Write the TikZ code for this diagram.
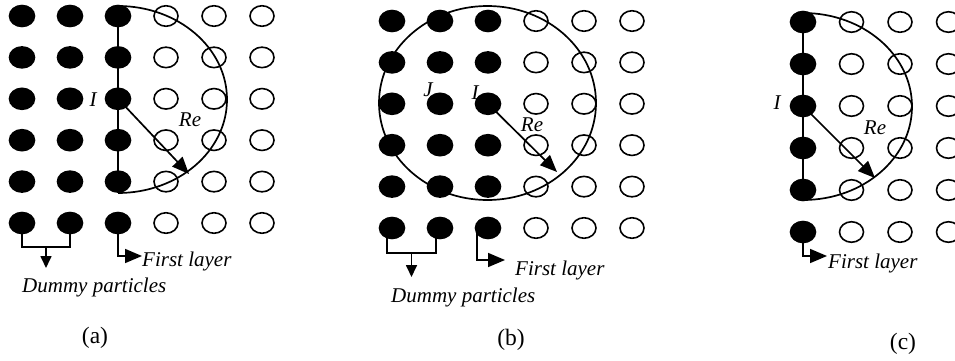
\documentclass[tikz,border=0pt]{standalone}
\usepackage{fontspec}
\setmainfont{Liberation Serif}
\usetikzlibrary{shapes.geometric,arrows.meta}
\begin{document}
\begin{tikzpicture}[x=1pt,y=1pt,yscale=-1,
  dot/.style={ellipse,draw=black,line width=1.6pt,fill=black,minimum width=25pt,minimum height=21pt,inner sep=0pt},
  hole/.style={ellipse,draw=black,line width=1.6pt,fill=none,minimum width=24pt,minimum height=20.5pt,inner sep=0pt},
  lbl/.style={font=\fontsize{21}{24}\selectfont\itshape,inner sep=0pt},
  captxt/.style={font=\fontsize{23.5}{27}\selectfont,inner sep=0pt},
  ln/.style={line width=1.7pt},
  bigtip/.style={-{Triangle[length=17pt,width=14pt]}},
  smalltip/.style={-{Triangle[length=12pt,width=11pt]}}]
\useasboundingbox (0,0) rectangle (955,361);
\clip (0,0) rectangle (955,361);

% ---------- panel (a) ----------
\foreach \i in {1,...,6}{
  \foreach \j in {1,...,6}{
    \pgfmathsetmacro\xx{22+48*(\j-1)}
    \pgfmathsetmacro\yy{16+41.4*(\i-1)}
    \ifnum\j<4
      \node[dot] (a\i\j) at (\xx,\yy) {};
    \else
      \node[hole] (a\i\j) at (\xx,\yy) {};
    \fi
  }
}
\draw[ln] (118,6) arc[start angle=-90,end angle=90,x radius=109,y radius=93.5];
\draw[ln] (a13.center) -- (a53.center);
\coordinate (aRe) at (189,174);
\draw[ln,bigtip] (a33.center) -- (aRe);
\node[lbl] (aI) at (93,100) {I};
\node[lbl] (aRetxt) at (190,120) {Re};
% dummy bracket
\coordinate (abl) at (22,247);
\coordinate (abr) at (70,247);
\coordinate (abm) at (46,247);
\coordinate (abe) at (46,268);
\draw[ln] (a61.center) -- (abl) -- (abr) -- (a62.center);
\draw[ln,smalltip] (abm) -- (abe);
\node[lbl,anchor=base west] (adum) at (22,292) {Dummy particles};
% first layer
\coordinate (afl) at (142,256);
\draw[ln,bigtip] (a63.center) |- (afl);
\node[lbl,anchor=base west] (afirst) at (142,266) {First layer};
\node[captxt] (acap) at (95,338) {(a)};

% ---------- panel (b) ----------
\foreach \i in {1,...,6}{
  \foreach \j in {1,...,6}{
    \pgfmathsetmacro\xx{392+48*(\j-1)}
    \pgfmathsetmacro\yy{21+41.4*(\i-1)}
    \ifnum\j<4
      \node[dot] (b\i\j) at (\xx,\yy) {};
    \else
      \node[hole] (b\i\j) at (\xx,\yy) {};
    \fi
  }
}
\draw[ln] (487.5,103) ellipse[x radius=108.5,y radius=97];
\coordinate (bRe) at (557,172);
\draw[ln,bigtip] (b33.center) -- (bRe);
\node[lbl] (bJ) at (428,90) {J};
\node[lbl] (bI) at (475,93) {I};
\node[lbl] (bRetxt) at (532,125) {Re};
% dummy bracket
\coordinate (bbl) at (387,253);
\coordinate (bbr) at (436,253);
\coordinate (bbm) at (411.5,253);
\coordinate (bbe) at (411.5,277);
\draw[ln] (387,232) -- (bbl) -- (bbr) -- (436,232);
\draw[ln,smalltip] (bbm) -- (bbe);
\node[lbl,anchor=base west] (bdum) at (391,302) {Dummy particles};
% first layer
\coordinate (bfl) at (505,260);
\draw[ln,bigtip] (477,232) |- (bfl);
\node[lbl,anchor=base west] (bfirst) at (515,275) {First layer};
\node[captxt] (bcap) at (511,340) {(b)};

% ---------- panel (c) ----------
\foreach \i in {1,...,6}{
  \foreach \j in {1,...,4}{
    \pgfmathsetmacro\xx{803+48.5*(\j-1)}
    \pgfmathsetmacro\yy{22+42*(\i-1)}
    \ifnum\j<2
      \node[dot] (c\i\j) at (\xx,\yy) {};
    \else
      \node[hole] (c\i\j) at (\xx,\yy) {};
    \fi
  }
}
\draw[ln] (803,13) arc[start angle=-90,end angle=90,x radius=109,y radius=93.5];
\draw[ln] (c11.center) -- (c51.center);
\coordinate (cRe) at (875,178);
\draw[ln,bigtip] (c31.center) -- (cRe);
\node[lbl] (cI) at (777,103) {I};
\node[lbl] (cRetxt) at (875,128) {Re};
\coordinate (cfl) at (827,256);
\draw[ln,bigtip] (c61.center) |- (cfl);
\node[lbl,anchor=base west] (cfirst) at (828,268) {First layer};
\node[captxt] (ccap) at (903,344) {(c)};
\end{tikzpicture}
\end{document}
